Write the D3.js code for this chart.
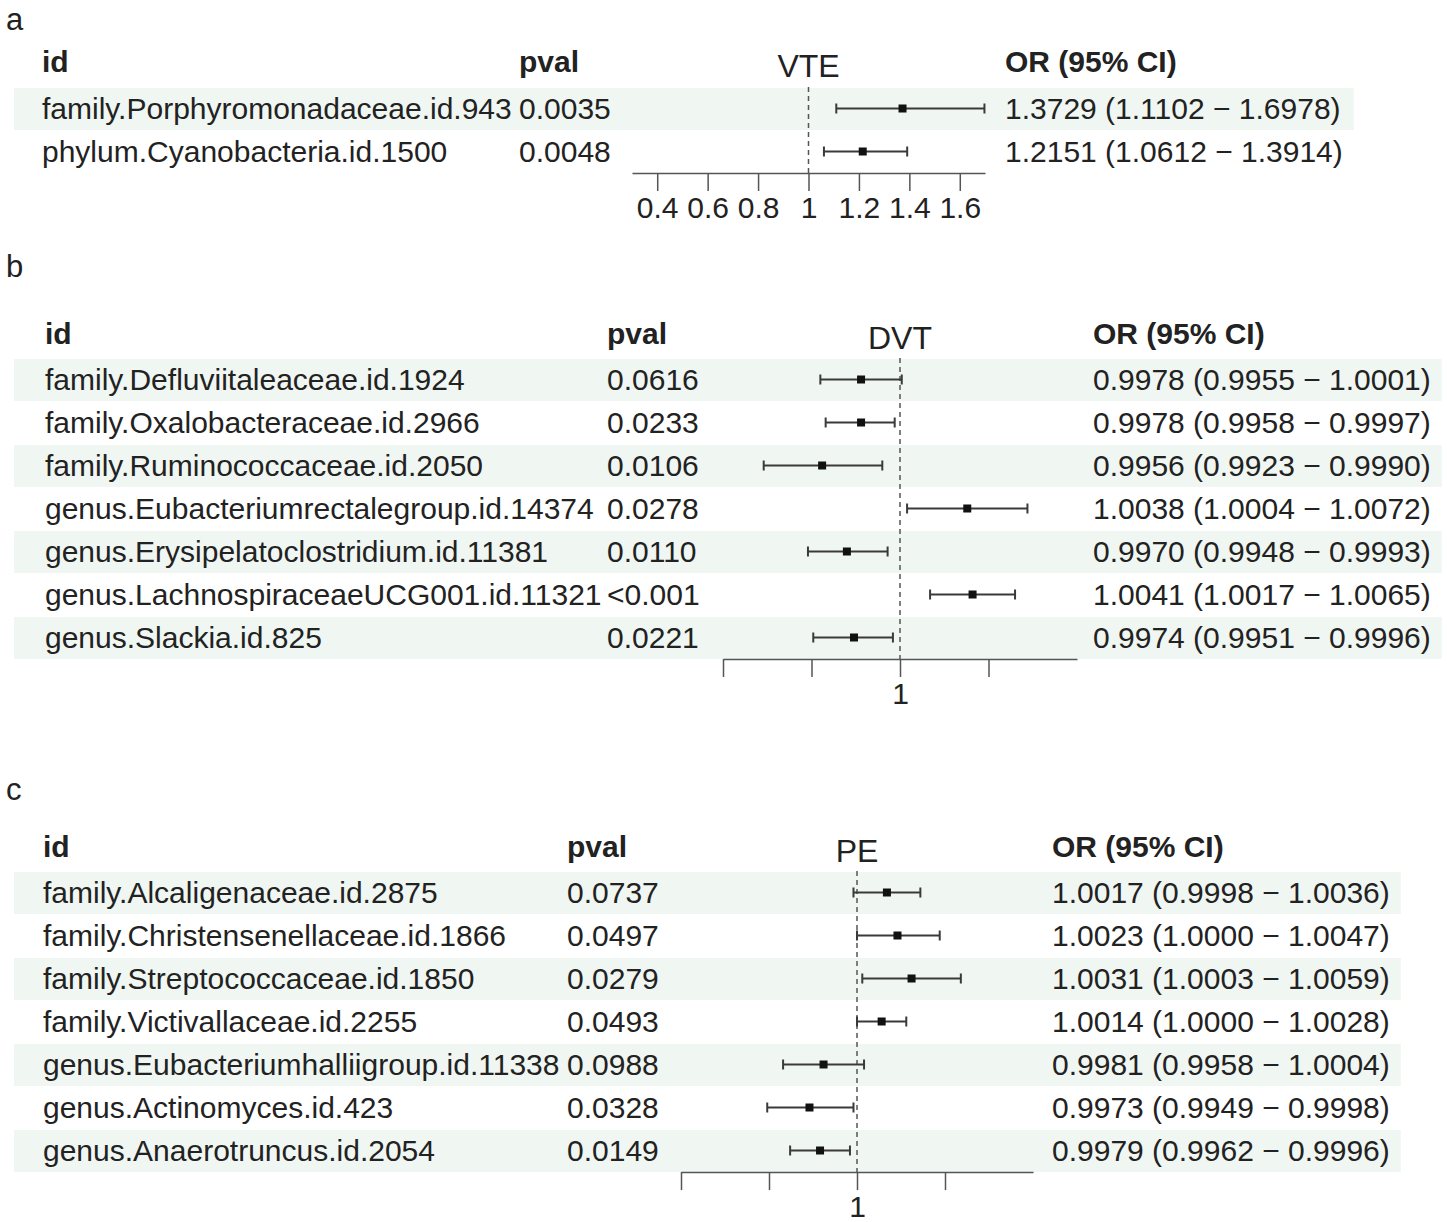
<!DOCTYPE html>
<html lang="en">
<head>
<meta charset="UTF-8" />
<title>Forest plots VTE / DVT / PE</title>
<script src="https://d3js.org/d3.v7.min.js"></script>
<style>
  body { margin: 0; background: #fff; }
  svg text { font-family: "Liberation Sans", Arial, sans-serif; fill: #222; }
</style>
</head>
<body>
<svg width="1447" height="1222"></svg>
<script>
// ---- panel a: VTE ----
const vteIds = ["family.Porphyromonadaceae.id.943", "phylum.Cyanobacteria.id.1500"];
const vtePval = ["0.0035", "0.0048"];
const vteOR = [1.3729, 1.2151];
const vteLo = [1.1102, 1.0612];
const vteHi = [1.6978, 1.3914];
const vteTicks = [0.4, 0.6, 0.8, 1, 1.2, 1.4, 1.6];

// ---- panel b: DVT ----
const dvtIds = ["family.Defluviitaleaceae.id.1924", "family.Oxalobacteraceae.id.2966",
  "family.Ruminococcaceae.id.2050", "genus.Eubacteriumrectalegroup.id.14374",
  "genus.Erysipelatoclostridium.id.11381", "genus.LachnospiraceaeUCG001.id.11321",
  "genus.Slackia.id.825"];
const dvtPval = ["0.0616", "0.0233", "0.0106", "0.0278", "0.0110", "<0.001", "0.0221"];
const dvtOR = [0.9978, 0.9978, 0.9956, 1.0038, 0.9970, 1.0041, 0.9974];
const dvtLo = [0.9955, 0.9958, 0.9923, 1.0004, 0.9948, 1.0017, 0.9951];
const dvtHi = [1.0001, 0.9997, 0.9990, 1.0072, 0.9993, 1.0065, 0.9996];

// ---- panel c: PE ----
const peIds = ["family.Alcaligenaceae.id.2875", "family.Christensenellaceae.id.1866",
  "family.Streptococcaceae.id.1850", "family.Victivallaceae.id.2255",
  "genus.Eubacteriumhalliigroup.id.11338", "genus.Actinomyces.id.423",
  "genus.Anaerotruncus.id.2054"];
const pePval = ["0.0737", "0.0497", "0.0279", "0.0493", "0.0988", "0.0328", "0.0149"];
const peOR = [1.0017, 1.0023, 1.0031, 1.0014, 0.9981, 0.9973, 0.9979];
const peLo = [0.9998, 1.0000, 1.0003, 1.0000, 0.9958, 0.9949, 0.9962];
const peHi = [1.0036, 1.0047, 1.0059, 1.0028, 1.0004, 0.9998, 0.9996];

const smallTicks = [0.99, 0.995, 1, 1.005];

const svg = d3.select("svg");
const fontSize = 30;
const rowH = 43;
const fmt = d3.format(".4f");

function drawPanel(p) {
  const g = svg.append("g");
  const rows = p.ids.map((id, i) => ({
    id: id, pval: p.pval[i], or: p.or[i], lo: p.lo[i], hi: p.hi[i]
  }));
  const x = d3.scaleLinear().domain(p.domain).range(p.range);
  const y = i => p.rowTop + i * rowH;
  const axisY = p.rowTop + rows.length * rowH;

  // panel letter
  g.append("text").attr("x", 6).attr("y", p.letterY)
    .attr("font-size", 31).text(p.letter);

  // row backgrounds, stripe on odd rows
  const bg = g.append("g");

  // headers
  const hy = p.headerY;
  g.append("text").attr("x", p.colId).attr("y", hy).attr("font-size", fontSize)
    .attr("font-weight", "bold").text("id");
  g.append("text").attr("x", p.colP).attr("y", hy).attr("font-size", fontSize)
    .attr("font-weight", "bold").text("pval");
  g.append("text").attr("x", (p.range[0] + p.range[1]) / 2).attr("y", hy + 5)
    .attr("font-size", 32).attr("text-anchor", "middle").text(p.title);
  g.append("text").attr("x", p.colOR).attr("y", hy).attr("font-size", fontSize)
    .attr("font-weight", "bold").text("OR (95% CI)");

  // table text
  const txt = g.append("g").attr("font-size", fontSize);
  txt.selectAll(".idt").data(rows).enter().append("text")
    .attr("x", p.colId).attr("y", (d, i) => y(i) + rowH / 2 + 10).text(d => d.id);
  txt.selectAll(".pt").data(rows).enter().append("text")
    .attr("x", p.colP).attr("y", (d, i) => y(i) + rowH / 2 + 10).text(d => d.pval);
  const orT = txt.selectAll(".ort").data(rows).enter().append("text")
    .attr("x", p.colOR).attr("y", (d, i) => y(i) + rowH / 2 + 10)
    .text(d => `${fmt(d.or)} (${fmt(d.lo)} \u2212 ${fmt(d.hi)})`);

  let maxW = 0;
  orT.each(function () { maxW = Math.max(maxW, this.getComputedTextLength()); });
  bg.selectAll("rect").data(rows.filter((d, i) => i % 2 === 0)).enter().append("rect")
    .attr("x", 14)
    .attr("y", d => y(rows.indexOf(d)) + 1)
    .attr("width", p.colOR + maxW + 11 - 14)
    .attr("height", rowH - 1)
    .attr("fill", "#f0f6f2");

  // reference line at OR = 1
  g.append("line")
    .attr("x1", x(1)).attr("x2", x(1))
    .attr("y1", p.rowTop).attr("y2", axisY)
    .attr("stroke", "#555").attr("stroke-width", 1.5)
    .attr("stroke-dasharray", "5,4");

  // CI bars
  const ci = g.append("g").attr("stroke", "#3a3a3a").attr("stroke-width", 2);
  rows.forEach((d, i) => {
    const cy = y(i) + rowH / 2;
    ci.append("line").attr("x1", x(d.lo)).attr("x2", x(d.hi)).attr("y1", cy).attr("y2", cy);
    ci.append("line").attr("x1", x(d.lo)).attr("x2", x(d.lo)).attr("y1", cy - 5).attr("y2", cy + 5);
    ci.append("line").attr("x1", x(d.hi)).attr("x2", x(d.hi)).attr("y1", cy - 5).attr("y2", cy + 5);
  });
  g.selectAll(".pt-sq").data(rows).enter().append("rect")
    .attr("x", d => x(d.or) - 4)
    .attr("y", (d, i) => y(i) + rowH / 2 - 4)
    .attr("width", 8).attr("height", 8)
    .attr("fill", "#111");

  // x axis
  const axis = d3.axisBottom(x).tickValues(p.ticks).tickSize(18).tickPadding(6)
    .tickSizeOuter(0)
    .tickFormat(p.tickFmt);
  const ax = g.append("g").attr("transform", `translate(0,${axisY})`).call(axis);
  ax.select(".domain").attr("stroke", "#555").attr("stroke-width", 1.5);
  ax.selectAll(".tick line").attr("stroke", "#555").attr("stroke-width", 1.5);
  ax.selectAll(".tick text").attr("font-size", fontSize)
    .attr("font-family", "Liberation Sans, Arial, sans-serif").attr("fill", "#222");
}

drawPanel({
  letter: "a", letterY: 30, title: "VTE", headerY: 72, rowTop: 87,
  ids: vteIds, pval: vtePval, or: vteOR, lo: vteLo, hi: vteHi,
  colId: 42, colP: 519, colOR: 1005,
  domain: [0.3, 1.7], range: [632, 985],
  ticks: vteTicks, tickFmt: d => String(d)
});

drawPanel({
  letter: "b", letterY: 277, title: "DVT", headerY: 344, rowTop: 358,
  ids: dvtIds, pval: dvtPval, or: dvtOR, lo: dvtLo, hi: dvtHi,
  colId: 45, colP: 607, colOR: 1093,
  domain: [0.99, 1.01], range: [723, 1077],
  ticks: smallTicks, tickFmt: d => d === 1 ? "1" : ""
});

drawPanel({
  letter: "c", letterY: 800, title: "PE", headerY: 857, rowTop: 871,
  ids: peIds, pval: pePval, or: peOR, lo: peLo, hi: peHi,
  colId: 43, colP: 567, colOR: 1052,
  domain: [0.99, 1.01], range: [681, 1033],
  ticks: smallTicks, tickFmt: d => d === 1 ? "1" : ""
});
</script>
</body>
</html>
